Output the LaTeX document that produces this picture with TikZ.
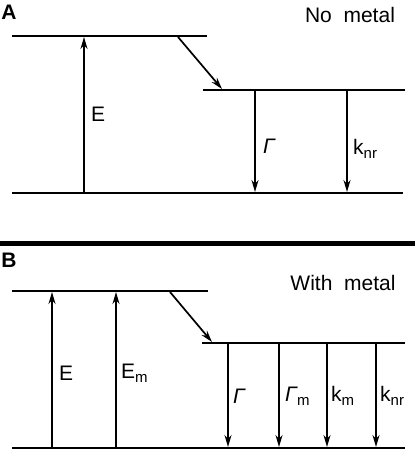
\documentclass[tikz,border=0pt]{standalone}
\usepackage{fontspec}
\setsansfont{Liberation Sans}
\usetikzlibrary{arrows.meta}
\newcommand{\lsub}[1]{\raisebox{-4pt}{\fontsize{15}{15}\selectfont #1}}
\begin{document}
\begin{tikzpicture}[x=1pt, y=-1pt,
    level/.style={line width=2pt},
    trans/.style={line width=1.7pt, -{Stealth[length=12pt, width=7pt]}},
    lbl/.style={font=\fontsize{21}{24}\selectfont\sffamily, inner sep=0pt},
    panel/.style={font=\fontsize{21}{24}\selectfont\sffamily\bfseries, inner sep=0pt}]
    \useasboundingbox (0,0) rectangle (415,454);

    % Panel A: no metal
    \node[panel] (A) at (9,12) {A};
    \node[lbl] (T_A) at (350,15) {No\ \ metal};
    \coordinate (A_T1) at (12,36);  \coordinate (A_T2) at (207,36);
    \coordinate (A_M1) at (203,90); \coordinate (A_M2) at (405,90);
    \coordinate (A_B1) at (12,193); \coordinate (A_B2) at (403,193);
    \draw[level] (A_T1) -- (A_T2); \draw[level] (A_M1) -- (A_M2); \draw[level] (A_B1) -- (A_B2);

    \coordinate (A_E0) at (84,193);   \coordinate (A_E1) at (84,37);
    \coordinate (A_S0) at (178,37);   \coordinate (A_S1) at (222,89);
    \coordinate (A_G0) at (255,90);   \coordinate (A_G1) at (255,192);
    \coordinate (A_K0) at (347,90);   \coordinate (A_K1) at (347,192);
    \draw[trans] (A_E0) -- (A_E1);
    \draw[trans] (A_S0) -- (A_S1);
    \draw[trans] (A_G0) -- (A_G1);
    \draw[trans] (A_K0) -- (A_K1);
    \node[lbl, anchor=west] (L_AE) at (91,114) {E};
    \node[lbl, anchor=west] (L_AG) at (263,146) {\itshape Γ};
    \node[lbl, anchor=west] (L_AK) at (353,149) {k\lsub{nr}};

    % separator
    \coordinate (S1) at (0,243); \coordinate (S2) at (415,243);
    \draw[line width=5pt] (S1) -- (S2);

    % Panel B: with metal
    \node[panel] (B) at (9,260) {B};
    \node[lbl] (T_B) at (343,283) {With\ \ metal};
    \coordinate (B_T1) at (12,291);  \coordinate (B_T2) at (208,291);
    \coordinate (B_M1) at (202,343); \coordinate (B_M2) at (405,343);
    \coordinate (B_B1) at (12,448);  \coordinate (B_B2) at (405,448);
    \draw[level] (B_T1) -- (B_T2); \draw[level] (B_M1) -- (B_M2); \draw[level] (B_B1) -- (B_B2);

    \coordinate (B_E0) at (52,448);   \coordinate (B_E1) at (52,292);
    \coordinate (B_F0) at (116,448);  \coordinate (B_F1) at (116,292);
    \coordinate (B_S0) at (170,292);  \coordinate (B_S1) at (212,342);
    \draw[trans] (B_E0) -- (B_E1);
    \draw[trans] (B_F0) -- (B_F1);
    \draw[trans] (B_S0) -- (B_S1);
    \foreach \x/\n in {228/G, 279/H, 327/K, 376/N}{
        \coordinate (B_\n0) at (\x,343); \coordinate (B_\n1) at (\x,447);
        \draw[trans] (B_\n0) -- (B_\n1);
    }
    \node[lbl, anchor=west] (L_BE) at (59,373) {E};
    \node[lbl, anchor=west] (L_BF) at (121,373) {E\lsub{m}};
    \node[lbl, anchor=west] (L_BG) at (233,396) {\itshape Γ};
    \node[lbl, anchor=west] (L_BH) at (285,396) {{\itshape Γ}\lsub{m}};
    \node[lbl, anchor=west] (L_BK) at (331,396) {k\lsub{m}};
    \node[lbl, anchor=west] (L_BN) at (380,396) {k\lsub{nr}};
\end{tikzpicture}
\end{document}
